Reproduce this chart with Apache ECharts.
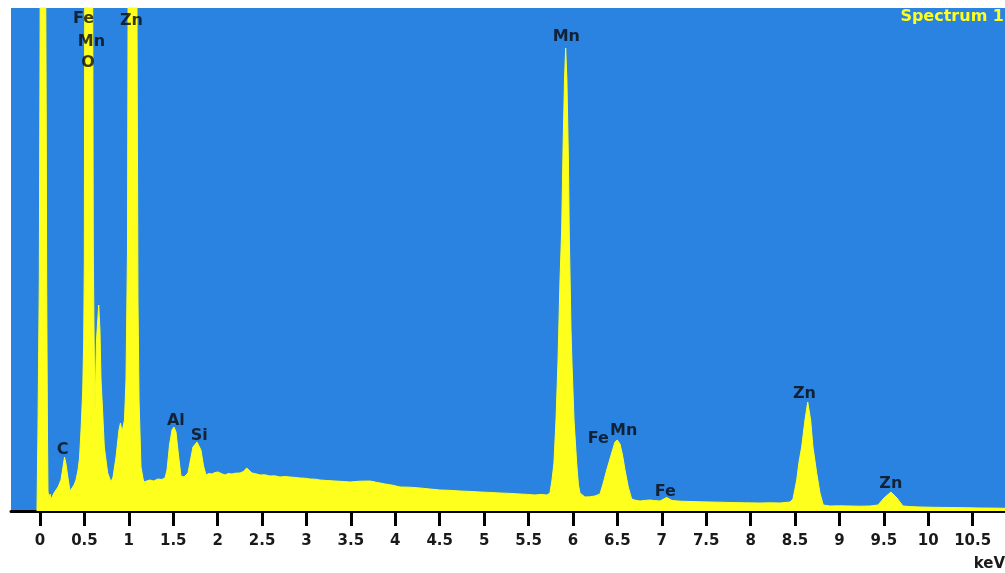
<!DOCTYPE html>
<html>
<head>
<meta charset="utf-8">
<title>Spectrum 1</title>
<script src="https://cdn.jsdelivr.net/npm/echarts@6.0.0/dist/echarts.min.js"></script>
<style>
  html, body { margin: 0; padding: 0; background: #ffffff; }
  #chart { width: 1005px; height: 573px; }
</style>
</head>
<body>
<div id="chart"></div>
<script>
// EDS spectrum: photon energy (keV) and detector counts
const energies = [
  -0.034, -0.023, -0.008, 0.000, 0.011, 0.034, 0.056, 0.070, 0.075, 0.084,
  0.090, 0.101, 0.113, 0.124, 0.135, 0.158, 0.180, 0.203, 0.236, 0.259,
  0.276, 0.293, 0.315, 0.338, 0.360, 0.383, 0.405, 0.428, 0.445, 0.462,
  0.481, 0.492, 0.499, 0.505, 0.540, 0.591, 0.600, 0.608, 0.619, 0.636,
  0.661, 0.675, 0.687, 0.706, 0.724, 0.762, 0.799, 0.822, 0.856, 0.889,
  0.906, 0.923, 0.951, 0.968, 0.985, 0.994, 1.041, 1.088, 1.103, 1.115,
  1.137, 1.167, 1.200, 1.238, 1.280, 1.328, 1.370, 1.407, 1.430, 1.458,
  1.486, 1.508, 1.531, 1.559, 1.587, 1.621, 1.666, 1.694, 1.722, 1.767,
  1.812, 1.841, 1.869, 1.900, 1.936, 1.970, 2.004, 2.040, 2.083, 2.120,
  2.161, 2.200, 2.252, 2.290, 2.327, 2.387, 2.430, 2.477, 2.530, 2.589,
  2.640, 2.702, 2.760, 2.814, 2.870, 2.927, 2.980, 3.040, 3.100, 3.152,
  3.230, 3.321, 3.400, 3.490, 3.600, 3.715, 3.800, 3.884, 3.970, 4.053,
  4.160, 4.278, 4.390, 4.503, 4.610, 4.728, 4.840, 4.953, 5.060, 5.178,
  5.290, 5.404, 5.490, 5.572, 5.640, 5.707, 5.741, 5.764, 5.786, 5.809,
  5.831, 5.854, 5.873, 5.888, 5.905, 5.918, 5.932, 5.949, 5.958, 5.978,
  5.989, 6.012, 6.042, 6.062, 6.079, 6.135, 6.190, 6.248, 6.304, 6.338,
  6.380, 6.436, 6.473, 6.499, 6.530, 6.558, 6.586, 6.623, 6.661, 6.700,
  6.755, 6.810, 6.867, 6.920, 6.980, 7.055, 7.115, 7.210, 7.318, 7.430,
  7.543, 7.650, 7.768, 7.930, 8.105, 8.220, 8.331, 8.443, 8.477, 8.519,
  8.545, 8.575, 8.612, 8.643, 8.676, 8.702, 8.744, 8.781, 8.818, 8.893,
  9.000, 9.119, 9.230, 9.344, 9.434, 9.502, 9.580, 9.648, 9.715, 9.800,
  9.907, 10.070, 10.244, 10.420, 10.582, 10.720, 10.864
];
const counts = [
  0, 810, 2310, 4510, 8000, 12000, 7000, 4000, 2310, 800,
  200, 110, 170, 100, 140, 180, 210, 240, 310, 440,
  540, 470, 330, 200, 220, 260, 310, 410, 530, 810,
  1210, 1710, 2510, 6000, 16000, 6000, 2610, 1810, 980, 1710,
  2060, 1810, 1310, 980, 640, 380, 290, 340, 540, 810,
  880, 790, 910, 1310, 2610, 6000, 20000, 6000, 2110, 1110,
  440, 290, 300, 310, 300, 320, 315, 330, 410, 660,
  810, 840, 790, 560, 350, 340, 380, 510, 640, 690,
  610, 450, 360, 375, 370, 385, 390, 375, 360, 375,
  370, 378, 380, 395, 430, 380, 372, 360, 362, 350,
  352, 340, 345, 340, 336, 330, 328, 320, 318, 310,
  305, 300, 296, 290, 298, 300, 285, 270, 258, 240,
  238, 230, 220, 210, 207, 200, 196, 190, 186, 180,
  176, 170, 166, 160, 166, 160, 180, 310, 480, 910,
  1480, 2310, 2810, 3610, 4310, 4630, 4310, 3510, 2810, 1810,
  1480, 910, 480, 260, 180, 140, 142, 150, 170, 270,
  410, 580, 690, 710, 670, 560, 410, 240, 120, 108,
  100, 106, 110, 104, 100, 135, 105, 98, 95, 92,
  90, 88, 85, 82, 80, 82, 80, 90, 120, 310,
  490, 640, 910, 1090, 910, 640, 380, 180, 60, 50,
  52, 50, 48, 50, 60, 130, 190, 130, 50, 44,
  40, 37, 35, 33, 30, 29, 27
];

// Element identifications written over the peaks
const peakNames    = ['Fe', 'Mn', 'O', 'Zn', 'C', 'Al', 'Si', 'Mn', 'Fe', 'Mn', 'Fe', 'Zn', 'Zn'];
const peakEnergies = [0.49, 0.58, 0.54, 1.03, 0.255, 1.529, 1.793, 5.925, 6.285, 6.571, 7.039, 8.606, 9.578];
const peakCounts   = [4920, 4690, 4480, 4900, 613, 902, 755, 4740, 718, 798, 188, 1168, 268];

// Energy tick labels
const energyTicks = [0, 0.5, 1, 1.5, 2, 2.5, 3, 3.5, 4, 4.5, 5, 5.5, 6, 6.5, 7, 7.5, 8, 8.5, 9, 9.5, 10, 10.5];

const spectrumName = 'Spectrum 1';
const energyUnit = 'keV';

const FONT = '"DejaVu Sans", "Liberation Sans", sans-serif';
const BLUE = '#2B83E1';
const YELLOW = '#FFFF1E';

const spectrum = energies.map((e, i) => [e, counts[i]]);
const labels = peakNames.map((n, i) => [peakEnergies[i], peakCounts[i], n]);

const chart = echarts.init(document.getElementById('chart'), null, { renderer: 'canvas' });

chart.setOption({
  animation: false,
  backgroundColor: '#ffffff',
  grid: {
    left: 11, right: 0, top: 8, bottom: 62,
    show: true, backgroundColor: BLUE, borderWidth: 0
  },
  xAxis: {
    type: 'value',
    min: -0.3265,
    max: 10.864,
    splitLine: { show: false },
    axisLine: { show: true, onZero: false, lineStyle: { color: '#000', width: 3 } },
    axisTick: {
      show: true, length: 15, customValues: energyTicks,
      lineStyle: { color: '#000', width: 3 }
    },
    axisLabel: {
      show: true, margin: 23, customValues: energyTicks,
      color: '#1a1a1a', fontFamily: FONT, fontWeight: 'bold', fontSize: 15
    }
  },
  yAxis: {
    type: 'value',
    min: 0,
    max: 5030,
    show: false,
    splitLine: { show: false }
  },
  graphic: [
    {
      type: 'text', right: 1, top: 9, z: 100,
      style: { text: spectrumName, fill: YELLOW, font: 'bold 16px ' + FONT }
    },
    {
      type: 'text', right: 0, top: 557, z: 100,
      style: { text: energyUnit, fill: '#1a1a1a', font: 'bold 15px ' + FONT }
    }
  ],
  series: [
    {
      type: 'line',
      data: spectrum,
      showSymbol: false,
      symbol: 'none',
      smooth: false,
      clip: true,
      lineStyle: { color: YELLOW, width: 1 },
      areaStyle: { color: YELLOW, opacity: 1 },
      silent: true,
      z: 2
    },
    {
      type: 'scatter',
      data: labels,
      symbolSize: 1,
      itemStyle: { color: 'rgba(0,0,0,0)' },
      silent: true,
      z: 5,
      label: {
        show: true,
        position: 'inside',
        formatter: p => p.value[2],
        color: '#0a0a0a',
        fontFamily: FONT,
        fontWeight: 'bold',
        fontSize: 16
      }
    }
  ]
});
</script>
</body>
</html>
